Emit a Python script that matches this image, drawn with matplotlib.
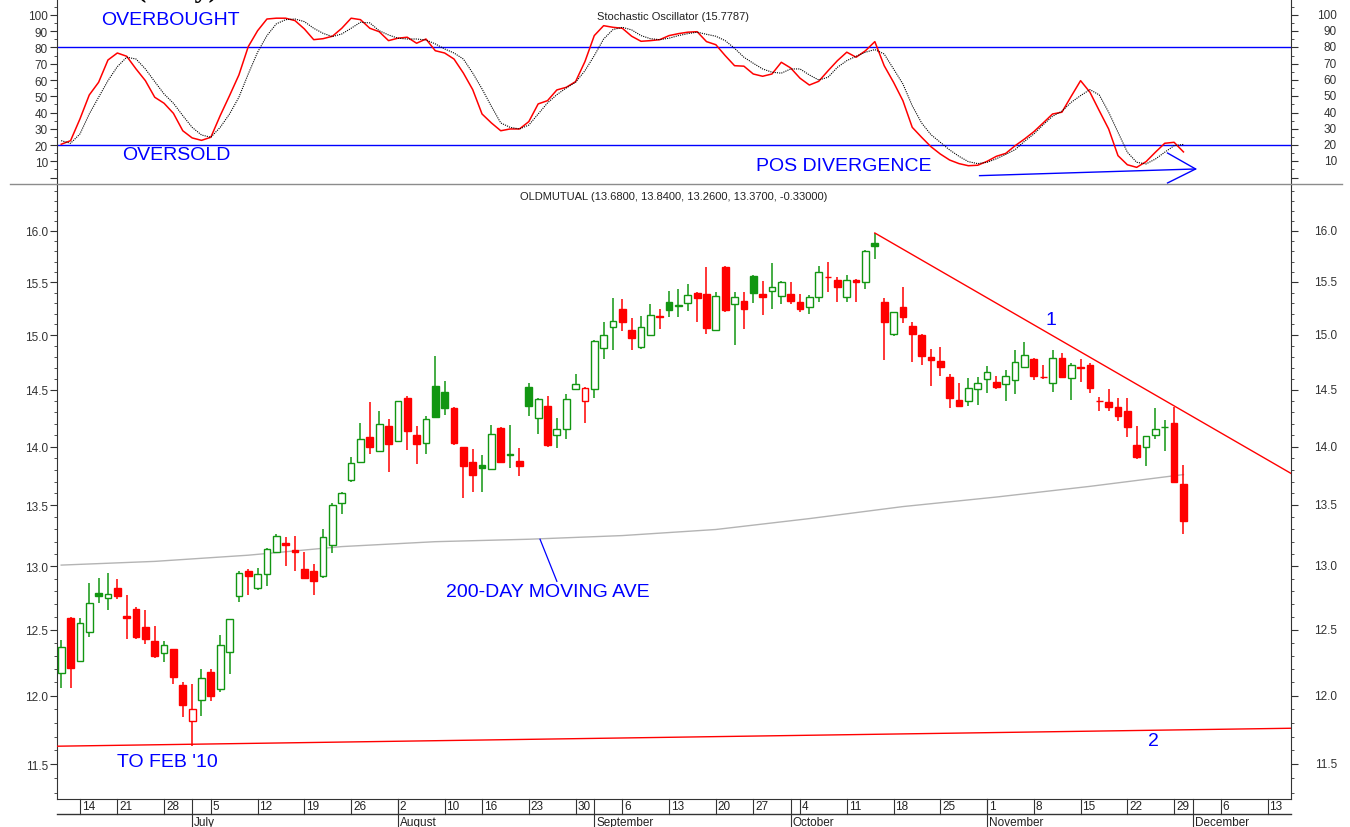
import numpy as np
import pandas as pd
import matplotlib
matplotlib.use("Agg")
import matplotlib.pyplot as plt
import matplotlib.transforms as mtrans
from matplotlib.lines import Line2D
from matplotlib.ticker import FixedLocator, FixedFormatter, NullFormatter

plt.rcParams["font.family"] = ["Liberation Sans", "DejaVu Sans"]

# JSE trading days shown on the axis (Jun 10 - Dec 15, 2010)
holidays = pd.to_datetime(["2010-06-16", "2010-08-09", "2010-09-24"])
days = pd.bdate_range("2010-06-10", "2010-12-15")
days = days[~days.isin(holidays)]

# OLDMUTUAL daily candles, Jun 10 - Nov 30
opens = [12.17, 12.59, 12.26, 12.48, 12.79, 12.75, 12.83, 12.61, 12.66, 12.52,
         12.41, 12.32, 12.35, 12.08, 11.81, 11.97, 12.18, 12.05, 12.33, 12.76,
         12.96, 12.83, 12.94, 13.12, 13.19, 13.13, 12.98, 12.96, 12.92, 13.17,
         13.52, 13.71, 13.87, 14.08, 13.96, 14.18, 14.05, 14.43, 14.10, 14.03,
         14.54, 14.48, 14.34, 14.00, 13.87, 13.84, 13.81, 14.16, 13.94, 13.88,
         14.53, 14.25, 14.36, 14.10, 14.15, 14.51, 14.40, 14.51, 14.88, 15.08,
         15.25, 15.05, 14.89, 15.00, 15.18, 15.31, 15.27, 15.30, 15.40, 15.39,
         15.05, 15.65, 15.29, 15.32, 15.56, 15.39, 15.42, 15.37, 15.39, 15.31,
         15.26, 15.36, 15.55, 15.52, 15.36, 15.52, 15.50, 15.88, 15.31, 15.01,
         15.26, 15.09, 15.00, 14.80, 14.76, 14.62, 14.41, 14.40, 14.51, 14.60,
         14.57, 14.55, 14.59, 14.71, 14.78, 14.62, 14.56, 14.79, 14.61, 14.71,
         14.73, 14.40, 14.39, 14.35, 14.31, 14.01, 14.00, 14.10, 14.17, 14.21,
         13.68]
highs = [12.42, 12.60, 12.59, 12.87, 12.91, 12.95, 12.90, 12.77, 12.68, 12.65,
         12.53, 12.41, 12.35, 12.10, 12.09, 12.20, 12.20, 12.46, 12.58, 12.96,
         12.98, 12.99, 13.15, 13.26, 13.24, 13.25, 13.12, 13.02, 13.30, 13.52,
         13.61, 13.91, 14.21, 14.39, 14.31, 14.24, 14.40, 14.45, 14.18, 14.27,
         14.81, 14.58, 14.35, 14.00, 13.98, 13.93, 14.19, 14.17, 14.19, 13.99,
         14.56, 14.43, 14.45, 14.25, 14.46, 14.64, 14.53, 14.96, 15.12, 15.35,
         15.34, 15.16, 15.18, 15.29, 15.25, 15.42, 15.44, 15.48, 15.41, 15.65,
         15.41, 15.66, 15.41, 15.41, 15.57, 15.51, 15.69, 15.51, 15.50, 15.39,
         15.38, 15.66, 15.70, 15.55, 15.57, 15.53, 15.81, 15.98, 15.35, 15.22,
         15.45, 15.12, 15.01, 14.87, 14.89, 14.64, 14.56, 14.61, 14.62, 14.72,
         14.63, 14.68, 14.86, 14.94, 14.79, 14.73, 14.86, 14.84, 14.74, 14.78,
         14.74, 14.44, 14.51, 14.43, 14.43, 14.18, 14.09, 14.34, 14.23, 14.35,
         13.84]
lows = [12.06, 12.06, 12.25, 12.44, 12.71, 12.65, 12.74, 12.43, 12.43, 12.39,
        12.28, 12.25, 12.09, 11.84, 11.63, 11.85, 11.96, 12.03, 12.16, 12.72,
        12.77, 12.81, 12.84, 13.11, 13.00, 12.96, 12.90, 12.77, 12.91, 13.11,
        13.43, 13.70, 13.87, 13.94, 13.96, 13.78, 14.04, 13.97, 13.85, 13.94,
        14.25, 14.28, 14.01, 13.56, 13.61, 13.61, 13.80, 13.86, 13.82, 13.75,
        14.27, 14.11, 14.00, 13.99, 14.07, 14.51, 14.21, 14.43, 14.78, 14.86,
        15.04, 14.86, 14.87, 14.99, 15.06, 15.17, 15.17, 15.23, 15.12, 15.01,
        15.05, 15.22, 14.91, 15.06, 15.30, 15.19, 15.25, 15.29, 15.29, 15.22,
        15.20, 15.31, 15.41, 15.31, 15.31, 15.31, 15.44, 15.72, 14.77, 14.99,
        15.11, 14.75, 14.73, 14.54, 14.63, 14.34, 14.35, 14.36, 14.37, 14.47,
        14.51, 14.40, 14.46, 14.70, 14.59, 14.60, 14.48, 14.61, 14.41, 14.57,
        14.47, 14.31, 14.31, 14.22, 14.08, 13.89, 13.83, 14.07, 13.96, 13.70,
        13.26]
closes = [12.37, 12.21, 12.55, 12.71, 12.76, 12.78, 12.76, 12.59, 12.44, 12.43,
          12.30, 12.38, 12.14, 11.93, 11.90, 12.13, 12.00, 12.38, 12.58, 12.95,
          12.92, 12.94, 13.14, 13.25, 13.17, 13.12, 12.91, 12.88, 13.24, 13.50,
          13.60, 13.86, 14.07, 14.00, 14.20, 14.02, 14.40, 14.14, 14.02, 14.24,
          14.26, 14.34, 14.03, 13.83, 13.76, 13.82, 14.11, 13.87, 13.93, 13.83,
          14.36, 14.42, 14.01, 14.15, 14.42, 14.55, 14.52, 14.95, 15.00, 15.13,
          15.12, 14.97, 15.08, 15.19, 15.17, 15.24, 15.28, 15.38, 15.35, 15.07,
          15.37, 15.24, 15.36, 15.25, 15.40, 15.36, 15.45, 15.50, 15.32, 15.25,
          15.36, 15.60, 15.55, 15.45, 15.52, 15.50, 15.80, 15.85, 15.12, 15.22,
          15.17, 15.01, 14.81, 14.77, 14.71, 14.43, 14.36, 14.52, 14.56, 14.66,
          14.53, 14.63, 14.75, 14.82, 14.63, 14.62, 14.79, 14.62, 14.73, 14.70,
          14.52, 14.40, 14.35, 14.27, 14.17, 13.91, 14.09, 14.15, 14.17, 13.70,
          13.37]

# 200-day moving average, read every 10 sessions
ma_idx = [0, 10, 20, 30, 40, 50, 60, 70, 80, 90, 100, 110, 120]
ma_val = [13.01, 13.04, 13.09, 13.16, 13.20, 13.22, 13.25, 13.30, 13.39, 13.49,
          13.57, 13.66, 13.76]

# stochastic oscillator: %K (red) and %D (black dotted)
stoch_k = [20.5, 22.7, 36.0, 50.8, 58.6, 72.3, 76.6, 74.6, 66.8, 59.6,
           49.4, 45.7, 39.5, 28.8, 24.4, 22.9, 24.8, 38.1, 50.4, 63.1,
           80.5, 90.3, 97.5, 98.0, 98.0, 96.5, 91.4, 84.8, 85.4, 86.9,
           91.8, 98.0, 97.1, 91.8, 89.7, 84.2, 85.7, 86.3, 82.6, 85.2,
           78.0, 76.6, 72.9, 64.3, 54.1, 39.1, 33.6, 28.8, 29.9, 29.9,
           34.4, 45.3, 47.3, 53.9, 55.5, 59.0, 71.3, 87.3, 93.4, 92.4,
           91.8, 86.9, 83.8, 84.2, 84.8, 87.3, 88.5, 89.4, 89.7, 83.6,
           81.7, 75.0, 68.8, 68.5, 63.7, 62.3, 63.7, 70.9, 67.4, 61.1,
           56.9, 59.2, 65.7, 71.9, 77.1, 74.0, 78.0, 83.6, 68.8, 58.6,
           47.3, 30.9, 24.8, 19.0, 14.5, 10.8, 8.6, 7.3, 7.6, 10.0,
           13.1, 14.9, 19.6, 23.7, 28.2, 33.6, 39.1, 40.2, 50.0, 59.6,
           52.5, 41.1, 29.9, 13.5, 7.9, 6.3, 9.8, 15.6, 21.1, 21.7,
           15.8]
stoch_d = [22.7, 21.1, 26.8, 39.1, 49.4, 59.6, 68.2, 74.0, 72.9, 66.8,
           59.0, 51.4, 45.7, 38.1, 30.9, 26.2, 24.8, 30.9, 39.1, 49.4,
           63.7, 77.1, 87.3, 94.5, 97.1, 97.5, 95.9, 91.8, 88.7, 86.7,
           88.3, 91.8, 95.5, 95.1, 90.3, 87.7, 85.7, 85.2, 85.2, 84.6,
           82.2, 79.1, 76.6, 72.9, 64.3, 54.5, 43.8, 33.6, 30.9, 29.9,
           32.3, 39.1, 45.9, 51.0, 55.1, 58.6, 65.7, 75.0, 85.2, 91.0,
           92.4, 90.8, 87.3, 85.4, 84.8, 85.7, 87.3, 88.5, 89.4, 88.1,
           86.9, 84.2, 79.5, 74.0, 70.3, 66.8, 64.8, 64.2, 66.8, 66.8,
           63.1, 60.0, 61.7, 67.8, 71.9, 74.6, 77.1, 78.7, 76.0, 66.8,
           57.6, 44.2, 33.6, 26.4, 21.7, 17.0, 13.1, 9.8, 8.6, 9.4,
           11.6, 14.3, 17.2, 22.3, 26.8, 32.5, 37.7, 40.8, 46.3, 50.4,
           54.1, 50.8, 40.2, 27.9, 15.6, 9.4, 8.4, 11.4, 15.6, 19.6,
           20.4]

price_ticks = [11.5, 12.0, 12.5, 13.0, 13.5, 14.0, 14.5, 15.0, 15.5, 16.0]
osc_ticks = [10, 20, 30, 40, 50, 60, 70, 80, 90, 100]

GREEN = "#129612"
RED = "#ff0000"
BLUE = "#0000ff"
AXC = "#333333"
TXT = "#222222"
TICK_FS = 8.5
W, H = 1350, 828


def px_box(x0, y0, x1, y1):
    return [x0 / W, 1 - y1 / H, (x1 - x0) / W, (y1 - y0) / H]


def style_axis(a):
    for s in ("left", "right", "bottom"):
        a.spines[s].set_color(AXC)
    a.spines["top"].set_visible(False)
    a.set_xticks([])
    a.tick_params(axis="y", which="both", direction="out", left=True, right=True,
                  labelright=False, colors=AXC, labelsize=TICK_FS, pad=1.5)
    a.tick_params(axis="y", which="major", length=5)
    a.tick_params(axis="y", which="minor", length=2.5)


def right_labels(a, ticks, fmt):
    tr = mtrans.blended_transform_factory(a.transAxes, a.transData)
    for t in ticks:
        a.text(1.0373, t, fmt.format(t), transform=tr, ha="right", va="center",
               fontsize=TICK_FS, color=AXC)


fig = plt.figure(figsize=(W / 100, H / 100), dpi=100)
ax_osc = fig.add_axes(px_box(57, 0, 1291, 186))
ax = fig.add_axes(px_box(57, 186, 1291, 800))
xlim = (-0.45, 131.5)

# ---- stochastic panel
x = np.arange(len(closes))
ax_osc.plot(x, stoch_k, color=RED, lw=1.1, zorder=3)
ax_osc.plot(x, stoch_d, color="black", lw=0.8, ls=(0, (1, 1)), zorder=3)
ax_osc.axhline(80, color=BLUE, lw=1.0, zorder=2)
ax_osc.axhline(20, color=BLUE, lw=1.0, zorder=2)
ax_osc.set_xlim(*xlim)
ax_osc.set_ylim(-4.55, 109.8)
style_axis(ax_osc)
ax_osc.spines["bottom"].set_visible(False)
ax_osc.yaxis.set_major_locator(FixedLocator([0] + osc_ticks))
ax_osc.yaxis.set_minor_locator(FixedLocator(np.arange(5, 110, 10)))
ax_osc.yaxis.set_major_formatter(FixedFormatter([""] + [str(t) for t in osc_ticks]))
right_labels(ax_osc, osc_ticks, "{:d}")
ax_osc.text(0.499, 0.908, "Stochastic Oscillator (15.7787)", transform=ax_osc.transAxes,
            ha="center", va="center", fontsize=8, color=TXT)
ax_osc.text(4.3, 96.9, "OVERBOUGHT", color=BLUE, fontsize=14, va="center")
ax_osc.text(6.5, 14.5, "OVERSOLD", color=BLUE, fontsize=14, va="center")
ax_osc.text(74.3, 7.7, "POS DIVERGENCE", color=BLUE, fontsize=14, va="center")
ax_osc.plot([98.2, 121.3], [1.2, 5.3], color=BLUE, lw=1.0)
ax_osc.plot([118.3, 121.3, 118.3], [15.1, 5.3, -3.3], color=BLUE, lw=1.0)

fig.add_artist(Line2D([10 / W, 1342 / W], [1 - 185 / H] * 2, color="#8c8c8c", lw=1.0))
# heading of the original page, cut off by the crop
fig.text(137 / W, 1 + 3 / H, "(Daily)", fontsize=20, fontweight="bold",
         family="Liberation Serif", va="baseline")

# ---- price panel (log scale)
ax.set_yscale("log")
o, h, l, c = map(np.array, (opens, highs, lows, closes))
prev = np.r_[o[0], c[:-1]]
col = np.where(c >= prev, GREEN, RED)
face = np.where(c < o, col, "white")
ax.vlines(x, l, h, colors=col, lw=1.1, zorder=2)
ax.bar(x, np.abs(c - o), 0.72, bottom=np.minimum(o, c), color=face,
       edgecolor=col, linewidth=1.0, zorder=3)

ax.plot(ma_idx, ma_val, color="#b4b4b4", lw=1.0, zorder=1)
ax.plot([87, 131.5], [15.98, 13.77], color=RED, lw=1.0, zorder=4)
ax.plot([-0.45, 131.5], [11.63, 11.76], color=RED, lw=1.0, zorder=4)
ax.plot([51.2, 53.0], [13.22, 12.88], color=BLUE, lw=0.9, zorder=4)

ax.text(41.1, 12.80, "200-DAY MOVING AVE", color=BLUE, fontsize=14, va="center")
ax.text(6.0, 11.52, "TO FEB '10", color=BLUE, fontsize=14, va="center")
ax.text(105.8, 15.15, "1", color=BLUE, fontsize=14, ha="center", va="center")
ax.text(116.8, 11.67, "2", color=BLUE, fontsize=14, ha="center", va="center")
ax.text(0.5, 0.982, "OLDMUTUAL (13.6800, 13.8400, 13.2600, 13.3700, -0.33000)",
        transform=ax.transAxes, ha="center", va="center", fontsize=8, color=TXT)

ax.set_xlim(*xlim)
ax.set_ylim(11.256, 16.462)
style_axis(ax)
ax.yaxis.set_major_locator(FixedLocator(price_ticks))
ax.yaxis.set_minor_locator(FixedLocator(np.round(np.arange(11.3, 16.45, 0.1), 1)))
ax.yaxis.set_major_formatter(FixedFormatter([f"{t:.1f}" for t in price_ticks]))
ax.yaxis.set_minor_formatter(NullFormatter())
right_labels(ax, price_ticks, "{:.1f}")

# ---- date rows under the price panel
tr = mtrans.blended_transform_factory(ax.transData, ax.transAxes)
row1, row2 = -15 / 614, -28 / 614
ax.plot([0, 1], [row1, row1], transform=ax.transAxes, color=AXC, lw=1.0, clip_on=False)
for i in range(1, len(days)):
    d, p = days[i], days[i - 1]
    if d.isocalendar()[1] != p.isocalendar()[1]:
        ax.plot([i, i], [0, row1], transform=tr, color=AXC, lw=0.8, clip_on=False)
        ax.text(i + 0.2, row1 / 2, str(d.day), transform=tr, ha="left", va="center",
                fontsize=8.5, color=TXT)
    if d.month != p.month:
        ax.plot([i, i], [0, row2 - 0.01], transform=tr, color=AXC, lw=0.8, clip_on=False)
        ax.text(i + 0.2, -23.5 / 614, d.strftime("%B"), transform=tr, ha="left",
                va="center", fontsize=8.5, color=TXT)

fig.savefig("out.png", dpi=100)
